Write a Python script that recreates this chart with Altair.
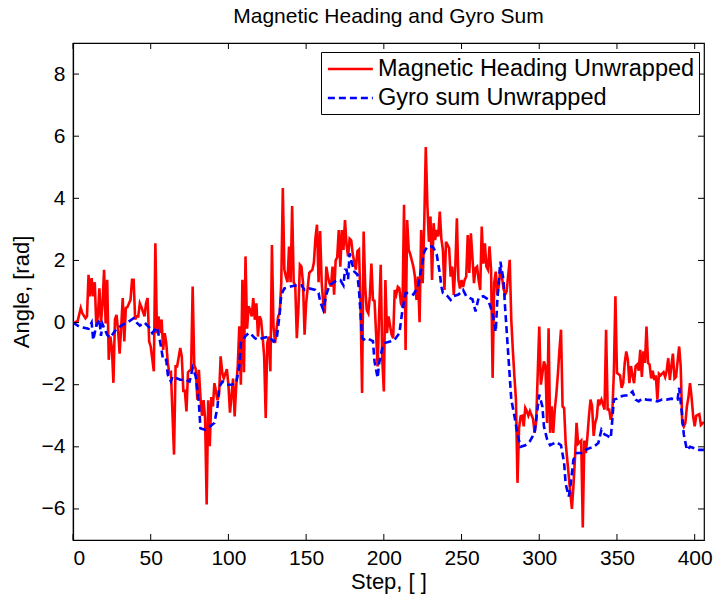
import altair as alt
import pandas as pd

# Magnetic heading (red, solid)
mag_step = [0,1,3,5,6,8,9,10,11,12,13,14,15,16,17,18,19,20,21,22,23,24,25,26,27,28,29,30,31,32,33,34,35,37,38,39,40,41,42,43,44,46,47,48,49,50,52,53,54,55,56,57,58,
            59,60,61,62,63,65,66,67,69,70,71,72,73,74,76,77,78,79,80,81,82,83,84,85,86,87,88,89,90,91,93,94,95,96,97,99,100,101,103,104,105,106,107,108,109,110,111,112,113,
            114,115,116,117,118,119,120,121,122,123,124,125,126,127,128,129,130,131,132,133,134,135,136,137,138,139,140,141,142,143,144,145,146,147,148,149,150,151,152,154,155,156,157,158,159,160,161,162,163,164,165,166,167,168,169,170,171,172,173,174,
            175,176,177,178,179,180,182,183,184,185,186,187,188,189,190,191,192,193,194,195,196,197,198,199,200,201,202,203,204,205,206,207,208,209,210,211,212,213,214,215,216,217,219,220,221,222,223,224,225,226,227,228,229,
            230,231,232,233,234,235,236,237,238,239,240,241,242,243,244,245,246,247,248,249,250,251,252,253,254,255,256,257,258,259,260,261,262,263,264,265,266,267,268,269,270,271,272,273,274,275,276,277,278,279,281,282,283,284,285,
            286,287,288,289,290,291,292,293,294,296,297,298,300,301,302,303,304,305,306,307,308,309,310,311,312,313,314,315,316,317,318,320,321,322,323,324,325,327,328,329,330,331,332,333,334,335,336,337,338,339,340,342,343,344,345,
            346,347,348,349,350,352,353,354,355,356,357,358,359,360,361,362,363,364,365,366,367,368,369,370,371,372,373,374,375,376,377,378,380,381,382,383,384,385,386,387,388,390,391,392,393,394,395,396,397,398,399,400,401,403,404,406]
mag_val = [0.0,0.0,0.05,0.47,0.3,0.14,0.2,1.54,0.84,1.43,0.84,1.3,-0.13,0.2,1.1,0.0,0.6,1.7,-0.03,1.38,-1.2,-0.45,-0.8,-1.94,0.1,0.25,-0.25,-1.0,-0.15,0.79,-0.61,0.47,0.5,0.73,1.38,1.38,0.1,0.2,0.2,0.62,0.5,0.2,0.62,0.79,-0.61,-0.77,-1.57,2.55,-0.34,0.2,-0.34,0.1,-0.88,
           -0.34,-0.66,-1.3,-1.63,-1.6,-4.25,-1.41,-1.41,-0.82,-1.1,-2.2,-2.2,-2.86,-1.6,-1.5,1.16,-1.36,-1.5,-2.48,-1.52,-2.4,-3.0,-2.5,-3.1,-5.86,-2.5,-3.98,-2.4,-2.7,-1.95,-2.5,-2.3,-1.09,-1.6,-1.8,-1.5,-2.0,-2.9,-1.8,-3.02,-2.05,-1.4,-0.12,-2.0,1.38,-1.6,2.13,-0.2,0.52,
           0.41,0.2,0.79,0.09,0.62,-0.45,0.2,0.09,-0.45,-1.09,-3.07,-0.66,-0.45,-1.57,2.5,-0.13,-0.66,-0.2,0.2,0.3,1.27,4.33,1.7,1.48,1.3,2.45,1.3,3.75,1.3,1.2,-0.5,0.41,1.86,1.8,1.27,-0.39,0.62,1.1,1.6,1.7,1.93,2.73,3.15,1.3,2.95,1.3,0.62,0.3,1.8,1.48,1.27,1.16,1.8,0.9,2.0,2.1,2.98,1.8,2.98,2.34,
           3.3,2.5,2.13,2.7,2.65,2.2,1.7,2.3,2.35,0.62,-2.27,2.93,1.16,0.4,0.3,0.85,1.9,0.73,0.7,-0.34,-1.41,0.3,1.86,-1.2,-2.22,1.37,-0.34,0.2,-0.1,-0.39,-0.5,1.05,0.9,1.15,1.1,0.62,0.5,3.79,-0.88,3.3,2.34,2.2,1.8,1.48,0.73,1.48,0.01,2.98,1.27,3.19,5.65,3.8,2.6,
           3.41,1.37,3.2,2.66,2.98,2.77,3.57,2.7,2.34,1.05,2.6,2.5,2.4,1.48,1.8,0.89,1.8,3.36,1.37,1.1,1.37,1.15,1.37,1.48,2.82,1.6,2.87,2.1,1.27,1.75,1.8,1.37,1.05,3.09,1.9,2.55,1.8,1.7,2.45,1.7,-1.78,1.27,1.64,0.9,1.2,1.77,1.47,1.1,0.9,1.0,2.02,0.09,-0.88,-1.73,-2.48,
           -5.16,-3.4,-3.02,-3.0,-3.34,-2.75,-2.85,-3.0,-2.85,-3.1,-3.55,-3.2,-0.13,-2.0,-1.65,-1.25,-1.4,-3.23,-0.18,-3.55,-2.7,-3.55,-2.8,-2.3,-1.65,-0.88,-0.23,-2.7,-2.75,-3.88,-4.41,-5.48,-6.0,-5.25,-4.35,-3.23,-3.9,-3.8,-6.6,-3.8,-4.2,-3.65,-3.0,-2.48,-2.7,-3.65,-3.23,-3.05,-2.48,-2.6,-2.48,-2.8,-0.23,-2.8,-2.8,
           -3.13,-2.9,-1.62,0.85,-1.62,-1.7,-2.1,-1.95,-1.3,-0.93,-1.2,-1.95,-1.4,-1.7,-1.95,-1.4,-1.35,-1.55,-0.88,-1.75,-0.93,-1.3,-0.13,-1.3,-1.35,-1.8,-1.55,-1.85,-1.7,-2.48,-1.65,-1.7,-1.6,-1.75,-1.55,-1.14,-1.85,-1.4,-1.0,-1.8,-1.75,-0.77,-1.4,-3.23,-3.35,-3.23,-2.7,-2.4,-1.95,-2.4,-3.0,-3.34,-3.0,-2.95,-3.3,-3.2]

# Gyro sum (blue, dashed)
gyro_step = [0,4,10,12,13,15,17,18,19,22,24,28,31,35,39,41,43,46,49,51,54,56,58,
             60,61,63,64,69,72,75,77,79,81,82,85,88,91,93,94,96,99,102,105,107,108,111,113,
             114,117,119,122,126,129,131,133,134,136,140,144,147,149,152,156,158,159,161,163,165,168,170,172,174,175,
             176,177,178,179,181,183,184,185,186,187,189,193,194,196,197,199,201,204,207,210,212,214,217,219,222,224,226,228,231,
             232,234,236,237,238,241,243,245,248,251,253,257,259,261,264,267,270,272,273,274,275,277,278,279,280,281,282,284,
             286,288,291,294,297,300,302,303,305,307,309,311,314,316,317,319,320,322,324,328,330,332,335,338,340,342,344,
             346,347,348,350,352,355,357,360,362,364,366,369,373,376,379,382,385,389,390,392,393,395,397,400,403,406]
gyro_val = [0.0,-0.13,-0.2,0.0,-0.56,-0.1,0.1,-0.43,-0.05,-0.4,-0.48,-0.2,-0.1,0.0,0.14,0.0,-0.1,0.0,-0.15,-0.34,-0.15,-0.6,-1.2,
            -1.2,-1.68,-1.9,-1.74,-1.84,-1.84,-1.9,-1.46,-1.74,-2.59,-3.4,-3.45,-3.35,-3.23,-2.7,-2.1,-1.9,-2.0,-2.0,-1.95,-1.41,-0.66,-0.43,-0.34,
            -0.34,-0.5,-0.55,-0.5,-0.45,-0.61,-0.55,0.3,0.9,1.1,1.16,1.2,1.2,1.05,1.1,1.05,0.95,0.68,0.41,0.9,1.2,1.3,1.37,1.37,1.2,1.7,
            1.7,1.4,2.23,2.0,1.64,1.55,1.05,0.3,-0.5,-0.55,-0.5,-0.6,-1.25,-1.78,-1.3,-0.82,-0.65,-0.61,-0.55,-0.34,0.41,0.95,0.95,0.9,1.16,1.7,2.28,2.45,2.45,
            2.4,2.2,1.59,1.16,0.95,0.85,0.73,0.85,0.9,1.05,0.85,0.75,0.36,0.8,0.85,0.75,0.3,-0.3,0.7,1.37,1.96,1.37,0.5,-0.24,-0.99,-1.73,-2.48,-3.0,
            -3.6,-4.0,-3.95,-3.82,-3.55,-2.32,-2.7,-3.34,-3.75,-3.95,-3.9,-3.85,-3.95,-4.52,-5.2,-5.6,-5.3,-4.41,-4.2,-4.2,-4.1,-4.05,-4.0,-3.88,-3.45,-3.6,-3.65,
            -3.72,-3.13,-2.48,-2.45,-2.38,-2.35,-2.35,-2.22,-2.48,-2.54,-2.45,-2.48,-2.5,-2.54,-2.48,-2.48,-2.45,-2.48,-2.1,-3.02,-3.6,-4.1,-4.0,-4.05,-4.1,-4.1]

series_names = ["Magnetic Heading Unwrapped", "Gyro sum Unwrapped"]
x_ticks = [0, 50, 100, 150, 200, 250, 300, 350, 400]
y_ticks = [-6, -4, -2, 0, 2, 4, 6, 8]

W, H = 631, 497
FONT = "Liberation Sans"

df = pd.concat([
    pd.DataFrame({"step": mag_step, "angle": mag_val, "series": series_names[0]}),
    pd.DataFrame({"step": gyro_step, "angle": gyro_val, "series": series_names[1]}),
])

xscale = alt.Scale(domain=[0, 406], nice=False, zero=False)
yscale = alt.Scale(domain=[-7, 9], nice=False, zero=False)
xaxis = alt.Axis(values=x_ticks, ticks=False, labelPadding=7, titlePadding=3, format="d")
yaxis = alt.Axis(values=y_ticks, ticks=False, labelPadding=8, titlePadding=8, format="d")
XT = "Step, [ ]"
YT = "Angle, [rad]"

leg = alt.Legend(title=None, orient="none", legendX=248, legendY=9,
                 symbolType="M-0.9,0L3.1,0", symbolSize=506, symbolStrokeWidth=2.6,
                 labelFontSize=23.5, labelFont=FONT, labelColor="black",
                 strokeColor="black", fillColor="white", padding=4,
                 rowPadding=4, labelOffset=27, labelLimit=500)

lines = alt.Chart(df).mark_line(strokeWidth=2.6, clip=True).encode(
    x=alt.X("step:Q", scale=xscale, title=XT, axis=xaxis),
    y=alt.Y("angle:Q", scale=yscale, title=YT, axis=yaxis),
    color=alt.Color("series:N", sort=series_names,
                    scale=alt.Scale(domain=series_names, range=["#ff0000", "#0000ff"]),
                    legend=leg),
    strokeDash=alt.StrokeDash("series:N", sort=series_names,
                              scale=alt.Scale(domain=series_names, range=[[1, 0], [7, 4]]),
                              legend=leg),
)

xt = pd.DataFrame({"step": x_ticks})
yt = pd.DataFrame({"angle": y_ticks})
tick_bottom = alt.Chart(xt).mark_rule(color="black", strokeWidth=1).encode(
    x=alt.X("step:Q", scale=xscale, title=XT, axis=xaxis), y=alt.value(H), y2=alt.value(H - 6))
tick_top = alt.Chart(xt).mark_rule(color="black", strokeWidth=1).encode(
    x=alt.X("step:Q", scale=xscale, title=XT, axis=xaxis), y=alt.value(0), y2=alt.value(6))
tick_left = alt.Chart(yt).mark_rule(color="black", strokeWidth=1).encode(
    y=alt.Y("angle:Q", scale=yscale, title=YT, axis=yaxis), x=alt.value(0), x2=alt.value(6))
tick_right = alt.Chart(yt).mark_rule(color="black", strokeWidth=1).encode(
    y=alt.Y("angle:Q", scale=yscale, title=YT, axis=yaxis), x=alt.value(W), x2=alt.value(W - 6))

chart = alt.layer(lines, tick_bottom, tick_top, tick_left, tick_right).properties(
    width=W, height=H,
    background="white",
    autosize=alt.AutoSizeParams(type="none"),
    padding={"left": 73, "top": 43, "right": 9, "bottom": 58},
    title=alt.Title("Magnetic Heading and Gyro Sum", fontSize=21, font=FONT,
                    fontWeight="normal", color="black", offset=16, anchor="middle"),
).configure_view(stroke="black", strokeWidth=1.2).configure_axis(
    labelFont=FONT, titleFont=FONT, labelFontSize=21, titleFontSize=22,
    labelColor="black", titleColor="black", titleFontWeight="normal",
    domainColor="black", domainWidth=1.2, grid=False,
)

chart.save("out.html", embed_options={"renderer": "svg", "actions": False})
